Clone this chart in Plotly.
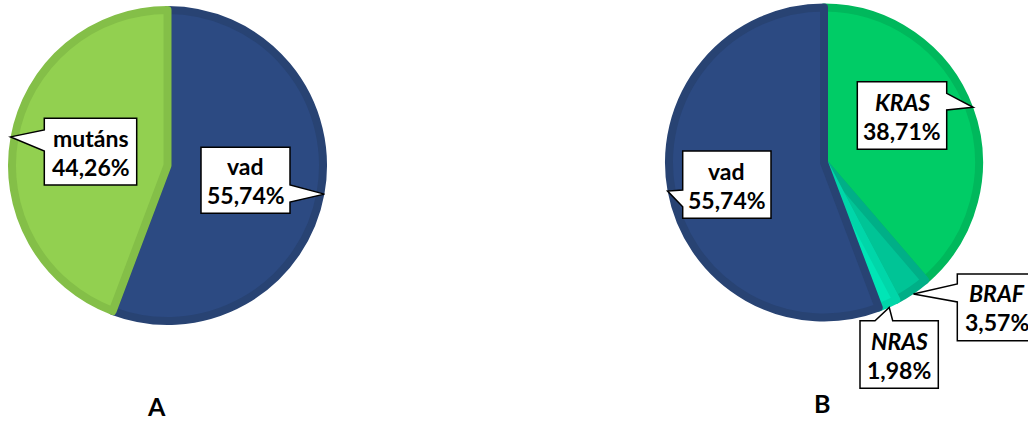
import math
import plotly.graph_objects as go

W, H = 1028, 423

# ---- data ----
labels_a = ["vad", "mutáns"]
values_a = [55.74, 44.26]

labels_b = ["KRAS", "BRAF", "NRAS", "vad"]
values_b = [38.71, 3.57, 1.98, 55.74]
italic_b = [True, True, True, False]

panel_titles = ["A", "B"]

# ---- styles ----
fill_a = ["#2C4A82", "#92D050"]
edge_a = ["#284373", "#84BF48"]
fill_b = ["#00CC66", "#00C496", "#00E5B6", "#2C4A82"]
edge_b = ["#00B85C", "#00AF87", "#00D6A9", "#284373"]

FONT = "Lato, 'Open Sans', sans-serif"
EDGE_W = 8
LABEL_SIZE = 23

# pie geometry in pixels (centre x, centre y, radius)
geo_a = (167.5, 165.5, 159.5)
geo_b = (824.0, 162.5, 159.0)


def domain(geo):
    cx, cy, r = geo
    rd = r - EDGE_W / 2
    return dict(x=[(cx - rd) / W, (cx + rd) / W],
                y=[1 - (cy + rd) / H, 1 - (cy - rd) / H])


def mid_points(values, geo):
    """Point on the rim at the middle angle of every slice (clockwise from 12 o'clock)."""
    cx, cy, r = geo
    tot = sum(values)
    pts, acc = [], 0.0
    for v in values:
        th = 2 * math.pi * (acc + v / 2) / tot
        pts.append((cx + r * math.sin(th), cy - r * math.cos(th)))
        acc += v
    return pts


def pct(v):
    return f"{v:.2f}".replace(".", ",") + "%"


def callout_path(box, side, base, tip):
    x0, y0, x1, y1 = box
    b0, b1 = base
    tx, ty = tip
    if side == "right":
        pts = [(x0, y0), (x1, y0), (x1, b0), (tx, ty), (x1, b1), (x1, y1), (x0, y1)]
    elif side == "left":
        pts = [(x0, y0), (x1, y0), (x1, y1), (x0, y1), (x0, b1), (tx, ty), (x0, b0)]
    else:  # top
        pts = [(x0, y0), (b0, y0), (tx, ty), (b1, y0), (x1, y0), (x1, y1), (x0, y1)]
    return "M " + " L ".join(f"{x:.2f},{y:.2f}" for x, y in pts) + " Z"


fig = go.Figure()

fig.add_trace(go.Pie(
    labels=labels_a, values=values_a, sort=False, direction="clockwise", rotation=0,
    marker=dict(colors=fill_a, line=dict(color=edge_a, width=EDGE_W)),
    textinfo="none", hoverinfo="label+percent", showlegend=False,
    domain=domain(geo_a),
))
fig.add_trace(go.Pie(
    labels=labels_b, values=values_b, sort=False, direction="clockwise", rotation=0,
    marker=dict(colors=fill_b, line=dict(color=edge_b, width=EDGE_W)),
    textinfo="none", hoverinfo="label+percent", showlegend=False,
    domain=domain(geo_b),
))

# callout boxes: (box, side the pointer leaves from, pointer base span)
callouts_a = [
    ((201, 147.3, 290, 213.3), "right", (185, 202)),
    ((44.3, 118.3, 136.7, 185), "left", (130, 151)),
]
callouts_b = [
    ((857.3, 81.7, 946.7, 149.3), "right", (93.3, 110)),
    ((957.3, 274, 1036, 340.7), "left", (284, 302)),
    ((860, 320.7, 938.3, 388.3), "top", (875, 892.7)),
    ((682.7, 151, 771, 218.3), "left", (190, 206.7)),
]

shapes, annotations = [], []


def add_callouts(labels, values, italics, geo, specs):
    tips = mid_points(values, geo)
    for lab, val, it, tip, (box, side, base) in zip(labels, values, italics, tips, specs):
        shapes.append(dict(type="path", xref="x", yref="y",
                           path=callout_path(box, side, base, tip),
                           fillcolor="white", line=dict(color="black", width=1.5),
                           layer="above"))
        x0, y0, x1, y1 = box
        cx = (x0 + x1) / 2
        cy = (y0 + y1) / 2
        name = f"<b><i>{lab}</i></b>" if it else f"<b>{lab}</b>"
        annotations.append(dict(x=cx, y=cy - 14, xref="x", yref="y", text=name,
                                showarrow=False,
                                font=dict(family=FONT, size=LABEL_SIZE, color="black")))
        annotations.append(dict(x=cx, y=cy + 15, xref="x", yref="y", text=f"<b>{pct(val)}</b>",
                                showarrow=False,
                                font=dict(family=FONT, size=LABEL_SIZE, color="black")))


add_callouts(labels_a, values_a, [False, False], geo_a, callouts_a)
add_callouts(labels_b, values_b, italic_b, geo_b, callouts_b)

for t, (x, y) in zip(panel_titles, [(156.5, 406), (822, 403)]):
    annotations.append(dict(x=x, y=y, xref="x", yref="y", text=f"<b>{t}</b>",
                            showarrow=False, font=dict(family=FONT, size=25, color="black")))

fig.update_layout(
    width=W, height=H,
    margin=dict(l=0, r=0, t=0, b=0),
    paper_bgcolor="white", plot_bgcolor="white",
    xaxis=dict(range=[0, W], visible=False, fixedrange=True),
    yaxis=dict(range=[H, 0], visible=False, fixedrange=True),
    shapes=shapes, annotations=annotations,
    showlegend=False,
)

fig.write_html("out.html")
